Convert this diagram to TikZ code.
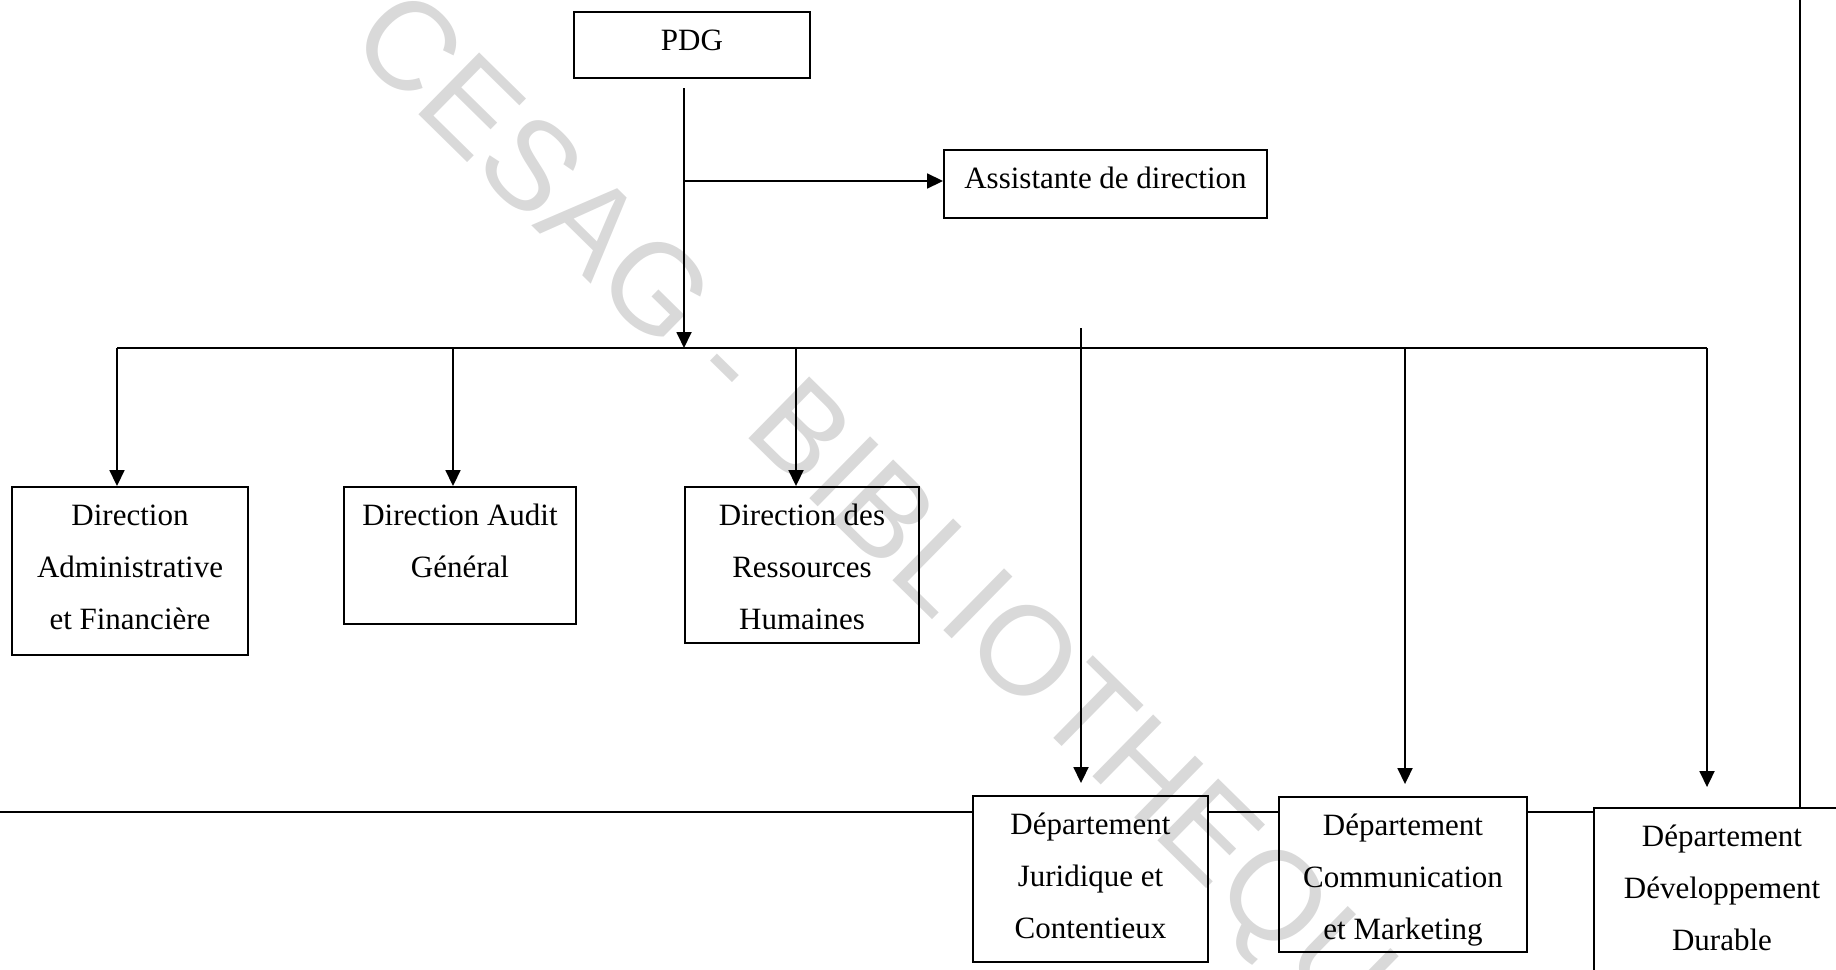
\documentclass[tikz,border=0pt]{standalone}
\usepackage{fontspec}
\setmainfont{Liberation Serif}
\newfontfamily\wmfont{Liberation Sans}
\usetikzlibrary{arrows.meta}
\definecolor{wmgray}{gray}{0.85}
% one unit = one pixel of the sheet, y running downwards
\begin{document}
\begin{tikzpicture}[x=0.5pt,y=-0.5pt,
  line width=0.9pt,
  box/.style 2 args={draw, line width=0.95pt, inner sep=0pt,
    minimum width=#1, minimum height=#2},
  txt/.style={inner sep=0pt, anchor=base, font=\fontsize{15.5}{26}\selectfont},
  arr/.style={-{Triangle[length=8pt,width=7.5pt]}},
  wm/.style={inner sep=0pt, anchor=base west, text=wmgray,
    font=\wmfont\fontsize{63}{63}\selectfont}
]
\useasboundingbox (0,0) rectangle (1836,969);

% library stamp in the background
\node[wm, rotate=-44.5] (stamp) at (346,43) {CESAG - BIBLIOTHEQUE};

% boxes
\node[box={118pt}{33pt}]   (pdg)    at (692,45) {};
\node[box={161.5pt}{34pt}] (assist) at (1105.5,184) {};
\node[box={118pt}{84pt}]   (daf)    at (130,571) {};
\node[box={116pt}{68.5pt}] (dag)    at (460,555.5) {};
\node[box={117pt}{78pt}]   (drh)    at (802,565) {};
\node[box={117.5pt}{83pt}] (jur)    at (1090.5,879) {};
\node[box={124pt}{77.5pt}] (com)    at (1403,874.5) {};
\node[box={128pt}{96pt}]   (dev)    at (1722,904) {};

% box labels, first baseline at a fixed depth below the top edge
\newcommand\boxtext[2]{%
  \node[txt] (#1-t) at ([yshift=-19.5pt]#1.north)
    {\parbox[t]{150pt}{\centering #2}};}
\boxtext{pdg}{PDG}
\boxtext{assist}{Assistante de direction}
\boxtext{daf}{Direction\\Administrative\\et Financière}
\boxtext{dag}{Direction Audit\\Général}
\boxtext{drh}{Direction des\\Ressources\\Humaines}
\boxtext{jur}{Département\\Juridique et\\Contentieux}
\boxtext{com}{Département\\Communication\\et Marketing}
\boxtext{dev}{Département\\Développement\\Durable}

% connector points
\coordinate (p0)   at (684,88);
\coordinate (hub)  at (684,348);
\coordinate (br)   at (684,181);
\coordinate (busL) at (117,348);
\coordinate (busR) at (1707,348);
\coordinate (d2)   at (453,348);
\coordinate (d3)   at (796,348);
\coordinate (j0)   at (1081,328);
\coordinate (c0)   at (1405,348);
\coordinate (b0)   at (0,812);
\coordinate (r0)   at (1800,0);

% PDG to the bus and to the assistant
\draw[arr] (p0) -- (hub);
\draw[arr] (br) -- (br -| assist.west);
\draw (busL) -- (busR);

% directions
\draw[arr] (busL) -- (busL |- daf.north);
\draw[arr] (d2) -- (d2 |- dag.north);
\draw[arr] (d3) -- (d3 |- drh.north);

% departments
\draw[arr, shorten >=6pt] (j0) -- (j0 |- jur.north);
\draw[arr, shorten >=6pt] (c0) -- (c0 |- com.north);
\draw[arr, shorten >=10pt] (busR) -- (busR |- dev.north);

% lower frame line and right edge
\draw (b0) -- (b0 -| jur.west);
\draw (b0 -| jur.east) -- (b0 -| com.west);
\draw (b0 -| com.east) -- (b0 -| dev.west);
\draw (r0) -- (r0 |- dev.north);
\end{tikzpicture}
\end{document}
